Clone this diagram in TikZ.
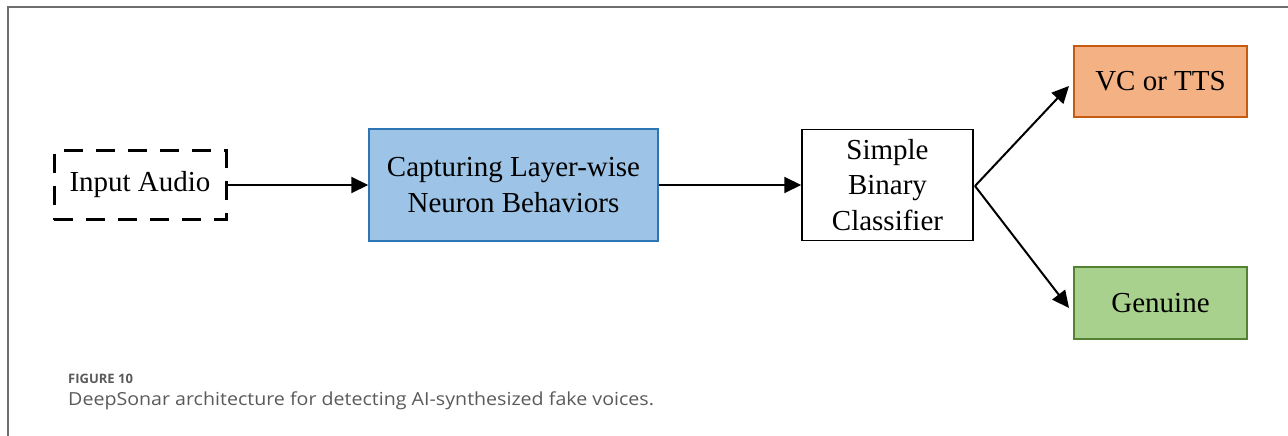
\documentclass[tikz,border=0pt]{standalone}
\usepackage{fontspec}
\setmainfont{Liberation Serif}
\newfontfamily\capfont[FakeStretch=1.09]{Open Sans}
\newfontfamily\caplabelfont{Open Sans}
\usetikzlibrary{arrows.meta}
\definecolor{blueFill}{HTML}{9DC3E6}
\definecolor{blueLine}{HTML}{2E75B6}
\definecolor{orangeFill}{HTML}{F4B183}
\definecolor{orangeLine}{HTML}{C55A11}
\definecolor{greenFill}{HTML}{A9D18E}
\definecolor{greenLine}{HTML}{548235}
\definecolor{frameGray}{HTML}{6E6E6E}
\definecolor{capGray}{HTML}{5A5A5A}
\tikzset{
  boxbase/.style={draw, line width=1.5pt, inner sep=0pt, align=center,
    font=\fontsize{29}{35.5}\selectfont},
  flowarrow/.style={line width=2pt, -{Triangle[length=17pt,width=16pt]}},
}
\begin{document}
\begin{tikzpicture}[x=1pt,y=-1pt]
\useasboundingbox (0,0) rectangle (1288,436);
% frame
\draw[frameGray, line width=1.6pt] (1288,7) -- (8,7) -- (8,436);
% nodes
\node[boxbase, dash pattern=on 19pt off 13pt, line width=3pt, minimum width=172pt, minimum height=69pt] (in) at (140,185) {Input Audio};
\node[boxbase, fill=blueFill, draw=blueLine, minimum width=289pt, minimum height=112pt] (cap) at (513.5,185) {Capturing Layer-wise\\Neuron Behaviors};
\node[boxbase, fill=white, draw=black, minimum width=171pt, minimum height=111pt] (cls) at (887.5,185) {Simple\\Binary\\Classifier};
\node[boxbase, fill=orangeFill, draw=orangeLine, minimum width=173pt, minimum height=71pt] (vc) at (1160.5,81.5) {VC or TTS};
\node[boxbase, fill=greenFill, draw=greenLine, minimum width=173pt, minimum height=72pt] (gen) at (1160.5,303) {Genuine};
% connectors
\coordinate (fork) at (975,186);
\coordinate (vcend) at (1069,86);
\coordinate (genend) at (1069,308);
\draw[flowarrow] (in.east) -- (cap.west);
\draw[flowarrow] (cap.east) -- (cls.west);
\draw[flowarrow] (fork) -- (vcend);
\draw[flowarrow] (fork) -- (genend);
% caption
\node[anchor=base west, inner sep=0pt, text=capGray, font=\caplabelfont\fontsize{13}{15}\selectfont\bfseries] (figlabel) at (68,383) {FIGURE 10};
\node[anchor=base west, inner sep=0pt, text=capGray, font=\capfont\fontsize{18}{21}\selectfont] (figcap) at (68,405) {DeepSonar architecture for detecting AI-synthesized fake voices.};
\end{tikzpicture}
\end{document}
